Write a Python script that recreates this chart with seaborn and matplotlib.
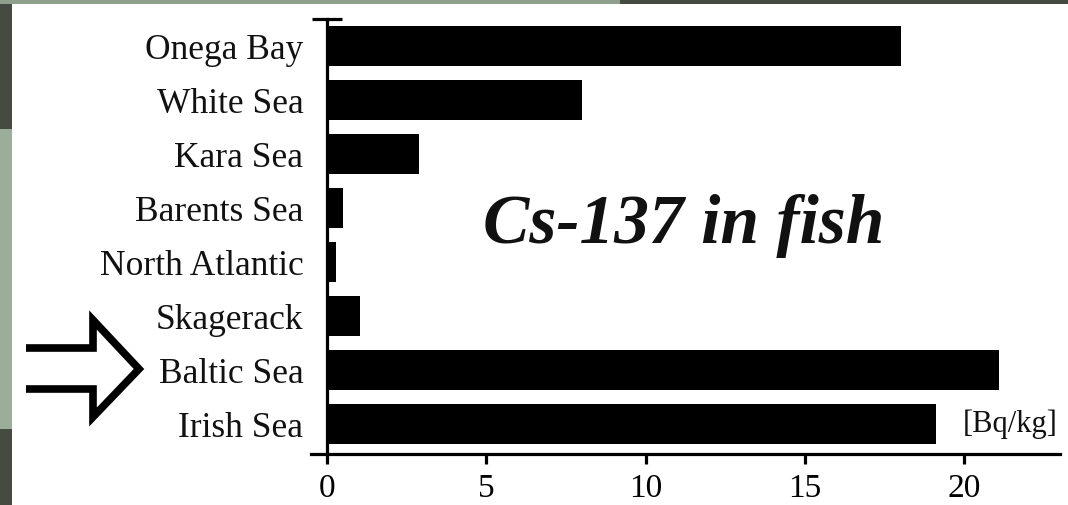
import matplotlib
matplotlib.use("Agg")
import matplotlib.pyplot as plt
import seaborn as sns
import pandas as pd
from matplotlib.patches import Rectangle
from matplotlib.lines import Line2D

regions = ["Onega Bay", "White Sea", "Kara Sea", "Barents Sea",
           "North Atlantic", "Skagerack", "Baltic Sea", "Irish Sea"]
cs137 = [18.0, 8.0, 2.9, 0.5, 0.3, 1.05, 21.1, 19.1]
x_ticks = [0, 5, 10, 15, 20]
title_text = "Cs-137 in fish"
unit_text = "[Bq/kg]"

df = pd.DataFrame({"region": regions, "value": cs137})

sns.set_theme(style="white")
plt.rcParams["font.family"] = ["Liberation Serif", "DejaVu Serif"]

W, H = 1068, 506
fig = plt.figure(figsize=(W / 100, H / 100), dpi=100)
fig.patch.set_facecolor("#464b42")

# background decoration (light leafy band on the left, top strip)
fig.patches.append(Rectangle((0, 1 - 430 / H), 12 / W, 300 / H, transform=fig.transFigure,
                             facecolor="#9bae99", edgecolor="none", zorder=-3))
fig.patches.append(Rectangle((0, 1 - 5 / H), 620 / W, 5 / H, transform=fig.transFigure,
                             facecolor="#8e9f8c", edgecolor="none", zorder=-3))
# white panel
fig.patches.append(Rectangle((12 / W, 0), 1 - 12 / W, 1 - 5 / H, transform=fig.transFigure,
                             facecolor="white", edgecolor="none", zorder=-2))

ax = fig.add_axes([311 / W, (H - 455) / H, 749 / W, 435 / H])
ax.patch.set_alpha(0)

sns.barplot(data=df, x="value", y="region", orient="h", color="black",
            width=0.74, saturation=1, ax=ax, edgecolor="black", linewidth=0)

ax.set_xlim(-0.5, 23.0)
ax.set_ylim(7.56, -0.5)
ax.set_xlabel("")
ax.set_ylabel("")

for s in ["top", "right"]:
    ax.spines[s].set_visible(False)
ax.spines["left"].set_position(("data", 0))
ax.spines["left"].set_linewidth(2.3)
ax.spines["bottom"].set_linewidth(2.3)
ax.spines["left"].set_color("black")
ax.spines["bottom"].set_color("black")

ax.set_xticks(x_ticks)
ax.set_xticklabels([str(t) for t in x_ticks])
ax.tick_params(axis="x", direction="out", length=7.5, width=2.3, color="black",
               pad=6, labelsize=24, labelcolor="black", bottom=True)
ax.tick_params(axis="y", which="major", length=0, pad=17, labelsize=25.5, labelcolor="#111111", left=True)
ax.set_yticks([-0.5], minor=True)
ax.tick_params(axis="y", which="minor", direction="inout", length=22, width=2.3, color="black", left=True)

fig.text(684 / W, (H - 243) / H, title_text, ha="center", va="baseline",
         fontsize=50, fontweight="bold", fontstyle="italic", color="#111111")
fig.text(1010 / W, (H - 424) / H, unit_text, ha="center", va="center",
         fontsize=22, color="#111111")

# hollow arrow pointing at Baltic Sea
arrow_pts = [(26, 349), (93, 349), (93, 321), (139, 370), (93, 418), (93, 390), (26, 390)]
xs = [p[0] / W for p in arrow_pts]
ys = [1 - p[1] / H for p in arrow_pts]
fig.lines.append(Line2D(xs, ys, transform=fig.transFigure, color="black",
                        linewidth=5.5, solid_joinstyle="miter", solid_capstyle="butt"))

fig.savefig("out.png", dpi=100, facecolor=fig.get_facecolor())
